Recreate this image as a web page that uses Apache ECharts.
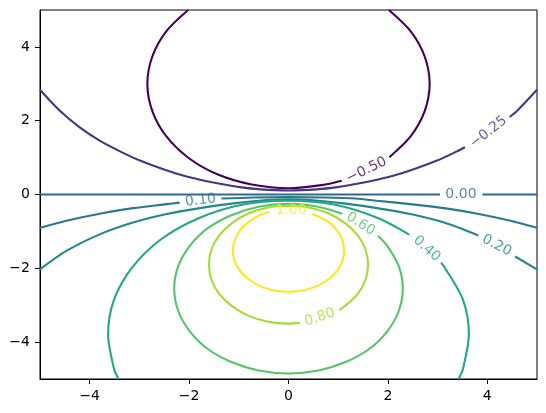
<!DOCTYPE html>
<html>
<head>
<meta charset="utf-8">
<script src="https://cdn.jsdelivr.net/npm/echarts@6/dist/echarts.min.js"></script>
<style>
    html, body { margin: 0; padding: 0; background: #fff; }
    #chart { width: 546px; height: 413px; }
</style>
</head>
<body>
<div id="chart"></div>
<script>
// contour levels (label text)
const levels = ['\u22120.50', '\u22120.25', '0.00', '0.10', '0.20', '0.40', '0.60', '0.80', '1.00']

// contour lines, one list of segments per level, [x, y]
const lvlM050 = [
    [[-2.02, 5], [-2.46, 4.42], [-2.74, 3.74], [-2.84, 3], [-2.74, 2.26], [-2.46, 1.58], [-2.01, 0.99],
     [-1.42, 0.54], [-0.74, 0.27], [0, 0.17], [0.74, 0.27], [1.07, 0.37]],
    [[2.03, 1.01], [2.46, 1.58], [2.74, 2.26], [2.84, 3], [2.74, 3.74], [2.46, 4.42], [2.02, 5]]
]
const lvlM025 = [
    [[-5, 2.84], [-4.6, 2.27], [-4.2, 1.82], [-3.8, 1.46], [-3.39, 1.17], [-2.99, 0.92], [-2.59, 0.72],
     [-2.19, 0.54], [-1.78, 0.4], [-1.38, 0.29], [-0.98, 0.2], [-0.57, 0.14], [0, 0.11], [0.57, 0.14],
     [0.98, 0.2], [1.38, 0.29], [1.78, 0.4], [2.19, 0.54], [2.59, 0.72], [2.99, 0.92], [3.39, 1.17], [3.55, 1.28]],
    [[4.45, 2.1], [4.6, 2.27], [5, 2.84]]
]
const lvl000 = [
    [[-5, 0], [3.05, 0]],
    [[3.9, 0], [5, 0]]
]
const lvl010 = [
    [[-5, -0.9], [-4.47, -0.71], [-3.8, -0.52], [-3.13, -0.37], [-2.45, -0.26], [-2.19, -0.22]],
    [[-1.35, -0.11], [-0.7, -0.08], [0, -0.07], [0.7, -0.08], [1.35, -0.11], [1.78, -0.17], [2.45, -0.26],
     [3.13, -0.37], [3.8, -0.52], [4.47, -0.71], [5, -0.9]]
]
const lvl020 = [
    [[-5, -2.03], [-4.47, -1.53], [-3.8, -1.08], [-3.13, -0.76], [-2.45, -0.53], [-1.78, -0.37], [-1.11, -0.24],
     [-0.44, -0.15], [0, -0.13], [0.44, -0.15], [1.11, -0.24], [1.78, -0.37], [2.45, -0.53], [3.13, -0.76], [3.82, -1.11]],
    [[4.56, -1.68], [5, -2.03]]
]
const lvl040 = [
    [[-3.42, -5], [-3.51, -4.73], [-3.63, -3.79], [-3.51, -2.85], [-3.14, -1.97], [-2.57, -1.22], [-1.82, -0.65],
     [-0.94, -0.28], [0, -0.17], [0.94, -0.28], [1.82, -0.65], [2.43, -1.09]],
    [[3.07, -1.85], [3.14, -1.97], [3.51, -2.85], [3.63, -3.79], [3.51, -4.73], [3.42, -5]]
]
const lvl060 = [
    [[1.8, -1.12], [1.99, -1.4], [2.22, -1.95], [2.3, -2.55], [2.22, -3.15], [1.99, -3.7], [1.63, -4.18],
     [1.15, -4.54], [0.6, -4.77], [0, -4.85], [-0.6, -4.77], [-1.15, -4.54], [-1.63, -4.18], [-1.99, -3.7],
     [-2.22, -3.15], [-2.3, -2.55], [-2.22, -1.95], [-1.99, -1.4], [-1.63, -0.92], [-1.15, -0.56],
     [-0.6, -0.33], [0, -0.25], [0.6, -0.33], [1.08, -0.52]]
]
const lvl080 = [
    [[1.02, -3.13], [1.13, -3.03], [1.39, -2.7], [1.55, -2.31], [1.6, -1.9], [1.55, -1.49], [1.39, -1.1],
     [1.13, -0.77], [0.8, -0.51], [0.41, -0.35], [0, -0.31], [-0.41, -0.35], [-0.8, -0.51], [-1.13, -0.77],
     [-1.39, -1.1], [-1.55, -1.49], [-1.6, -1.9], [-1.55, -2.31], [-1.39, -2.7], [-1.13, -3.03], [-0.8, -3.29],
     [-0.41, -3.45], [0, -3.5], [0.23, -3.48]]
]
const lvl100 = [
    [[0.47, -0.52], [0.79, -0.73], [0.97, -0.96], [1.08, -1.23], [1.12, -1.52], [1.08, -1.81], [0.97, -2.08],
     [0.79, -2.31], [0.56, -2.49], [0.29, -2.6], [0, -2.64], [-0.29, -2.6], [-0.56, -2.49], [-0.79, -2.31],
     [-0.97, -2.08], [-1.08, -1.81], [-1.12, -1.52], [-1.08, -1.23], [-0.97, -0.96], [-0.79, -0.73],
     [-0.56, -0.55], [-0.38, -0.47]]
]

// where each inline label sits, [x, y]
const labelPos = [[1.57, 0.66], [4.02, 1.69], [3.47, 0], [-1.77, -0.16], [4.19, -1.38],
                  [2.78, -1.47], [1.45, -0.8], [0.63, -3.33], [0.05, -0.43]]

const tickValues = [-4, -2, 0, 2, 4]

// styles
const lines = [lvlM050, lvlM025, lvl000, lvl010, lvl020, lvl040, lvl060, lvl080, lvl100]
const colors = ['#440154', '#453781', '#31688e', '#2a788e', '#24878e', '#22a884', '#54c568', '#a5db36', '#fde725']
const labelAngle = [26, 38, 0, 6, -27, -42, -32, 18, 0]

const chart = echarts.init(document.getElementById('chart'))

const minus = v => String(v).replace('-', '\u2212')

let series = []
lines.forEach((segs, i) => {
    segs.forEach(seg => {
        series.push({
            type: 'line',
            data: seg,
            smooth: seg.length > 2 ? 0.3 : false,
            symbol: 'none',
            lineStyle: { color: colors[i], width: 2.1 },
            silent: true,
            z: 2
        })
    })
})
series.push({
    type: 'scatter',
    symbolSize: 0,
    silent: true,
    z: 3,
    data: labelPos.map((p, i) => ({
        value: p,
        name: levels[i],
        label: { rotate: labelAngle[i], color: colors[i] }
    })),
    label: {
        show: true,
        position: 'inside',
        formatter: '{b}',
        fontFamily: 'DejaVu Sans',
        fontSize: 14
    }
})

const axisCommon = {
    type: 'value',
    min: -5,
    max: 5,
    splitLine: { show: false },
    axisLine: { show: true, onZero: false, lineStyle: { color: '#000', width: 1 } },
    axisTick: { show: true, length: 5, customValues: tickValues, lineStyle: { color: '#000', width: 1 } },
    axisLabel: {
        customValues: tickValues,
        formatter: minus,
        color: '#000',
        fontFamily: 'DejaVu Sans',
        fontSize: 14
    }
}

chart.setOption({
    animation: false,
    grid: { left: 40, top: 10, width: 497, height: 369, show: true, borderColor: '#000', borderWidth: 1 },
    xAxis: Object.assign({}, axisCommon, { axisLabel: Object.assign({}, axisCommon.axisLabel, { margin: 10 }) }),
    yAxis: Object.assign({}, axisCommon, { axisLabel: Object.assign({}, axisCommon.axisLabel, { margin: 10 }) }),
    series: series
})
</script>
</body>
</html>
